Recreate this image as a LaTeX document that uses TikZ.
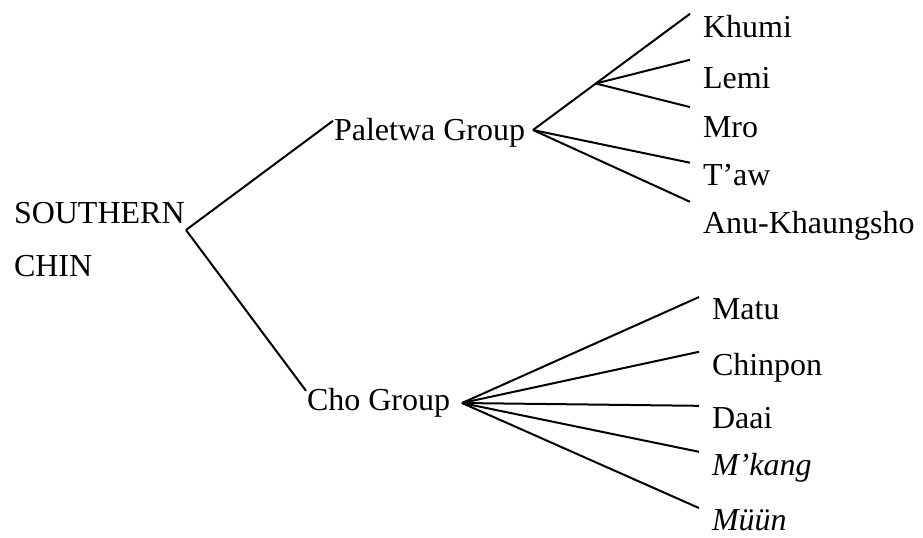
\documentclass[tikz,border=0pt]{standalone}
\usepackage{fontspec}
\setmainfont{Liberation Serif}
\usetikzlibrary{calc}

\begin{document}
\begin{tikzpicture}[x=0.5pt, y=-0.5pt, line width=1pt,
	every node/.style={inner sep=0pt, font=\fontsize{16}{19}\selectfont},
	group/.style={anchor=base west},
	leaf/.style={anchor=base west, inner xsep=6pt}]
	\useasboundingbox (0,0) rectangle (923,537);
	\node[group] (south) at (13,223) {SOUTHERN};
	\node[group] (chin) at (13,276) {CHIN};
	\node[group] (pal) at (333,140) {Paletwa Group};
	\node[group] (cho) at (306,410) {Cho Group};
	\coordinate (root) at (186,230);
	\coordinate (pv) at (533,130);
	\coordinate (cv) at (462,403);
	\draw (root) -- ([yshift=-2pt]pal.north west);
	\draw (root) -- ([yshift=-2pt]cho.north west);
	\foreach \nm/\txt/\yb in {khumi/Khumi/37, lemi/Lemi/88, mro/Mro/137, taw/T’aw/185, anu/Anu-Khaungsho/233}
	\node[leaf] (\nm) at (690,\yb) {\txt};
	\coordinate (sv) at ($(pv)!0.4!(khumi.north west)$);
	\draw (pv) -- (khumi.north west);
	\foreach \nm/\dy in {lemi/3, mro/4}
	\draw (sv) -- ([yshift=\dy pt]\nm.north west);
	\foreach \nm/\dy in {taw/0, anu/4}
	\draw (pv) -- ([yshift=\dy pt]\nm.north west);
	\foreach \nm/\txt/\yb/\ff in {matu/Matu/319/\upshape, chinpon/Chinpon/375/\upshape, daai/Daai/428/\upshape, mkang/M’kang/475/\itshape, muun/Müün/530/\itshape}
	{
	\node[leaf] (\nm) at (699,\yb) {\ff\txt};
	\draw (cv) -- (\nm.north west);
	}
\end{tikzpicture}
\end{document}
